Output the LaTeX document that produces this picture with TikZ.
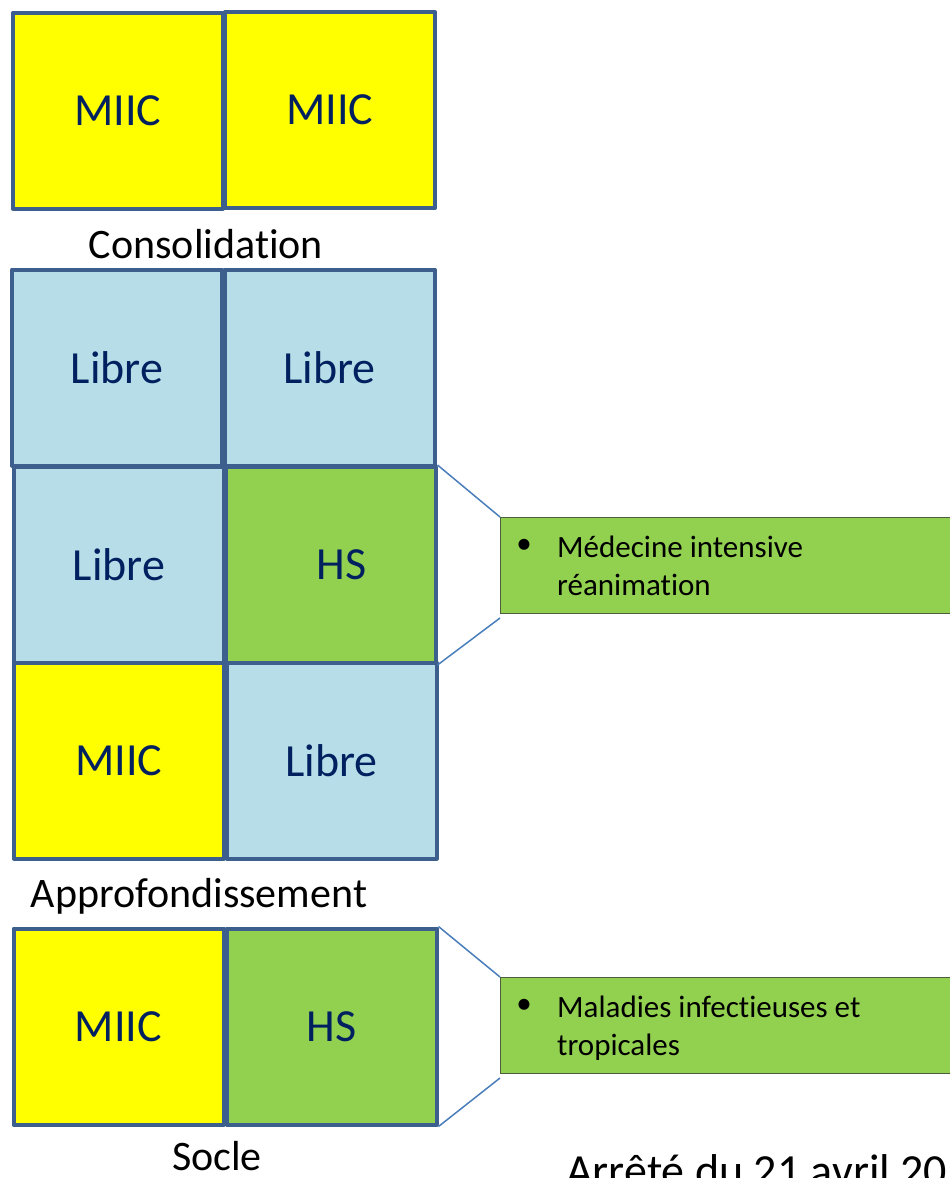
\documentclass[tikz,border=0pt]{standalone}
\usepackage{fontspec}
\setmainfont{Carlito}[RawFeature={-liga;-clig;-calt;-dlig}]
\usetikzlibrary{calc}
\definecolor{cellyellow}{HTML}{FFFF00}
\definecolor{cellblue}{HTML}{B7DEE8}
\definecolor{cellgreen}{HTML}{92D050}
\definecolor{cellborder}{HTML}{3C5F8D}
\definecolor{navytext}{HTML}{002060}
\definecolor{calloutborder}{HTML}{4D5D3D}
\definecolor{linkblue}{HTML}{4A7EBB}
\begin{document}
\begin{tikzpicture}[x=1pt,y=-1pt,
  cell/.style={draw=cellborder, line width=4pt, line join=round, inner sep=0pt,
    minimum width=210pt, minimum height=196pt, text=navytext,
    font=\fontsize{46}{55}\selectfont},
  yel/.style={cell, fill=cellyellow},
  lib/.style={cell, fill=cellblue},
  grn/.style={cell, fill=cellgreen},
  caption/.style={anchor=base, inner sep=0pt, font=\fontsize{42}{50}\selectfont},
  callout/.style={draw=calloutborder, fill=cellgreen, line width=1pt, inner sep=0pt,
    minimum width=500pt, minimum height=96pt, anchor=north west},
  callline/.style={draw=linkblue, line width=1.5pt},
  bullettext/.style={anchor=base west, inner sep=0pt, font=\fontsize{31}{38}\selectfont},
  bulletdot/.style={inner sep=0pt, font=\fontsize{31}{38}\selectfont}
]
\useasboundingbox (0,0) rectangle (950,1178);
\clip (0,0) rectangle (950,1178);

% Consolidation
\node[yel] (c1) at (118,110.5) {MIIC};
\node[yel] (c2) at (330,110) {MIIC};
\node[caption] (capc) at (206,258) {Consolidation};

% Approfondissement
\node[lib] (a1) at (117,367.5) {Libre};
\node[lib] (a2) at (329.5,367.5) {Libre};
\node[lib] (a3) at (119,565) {Libre};
\node[grn] (a4) at (330.5,565) {\hspace*{22pt}HS};
\node[yel] (a5) at (119,760.5) {MIIC};
\node[lib] (a6) at (331.5,760.5) {Libre};
\node[caption] (capa) at (199,907) {Approfondissement};

% Socle
\node[yel] (s1) at (118.5,1026.5) {MIIC};
\node[grn] (s2) at (331.5,1026.5) {HS};
\node[caption] (caps) at (217,1170) {Socle};

% Callout 1
\node[callout] (k1) at (500,517) {};
\coordinate (k1low) at ($(k1.south west)+(0,4)$);
\node[bulletdot] (b1) at (524,546) {\textbullet};
\node[bullettext] (t1a) at (557,557) {Médecine intensive};
\node[bullettext] (t1b) at (557,595) {réanimation};
\draw[callline] (a4.north east) -- (k1.north west);
\draw[callline] (a4.south east) -- (k1low);

% Callout 2
\node[callout] (k2) at (500,977) {};
\coordinate (k2low) at ($(k2.south west)+(0,4)$);
\node[bulletdot] (b2) at (524,1006) {\textbullet};
\node[bullettext] (t2a) at (557,1017) {Maladies infectieuses et};
\node[bullettext] (t2b) at (557,1055) {tropicales};
\draw[callline] (s2.north east) -- (k2.north west);
\draw[callline] (s2.south east) -- (k2low);

% Bottom text (cut off by the frame, as in the reference)
\node[anchor=base west, inner sep=0pt, font=\fontsize{46}{55}\selectfont] (arrete) at (566,1186) {Arrêté du 21 avril 2017};
\end{tikzpicture}
\end{document}
